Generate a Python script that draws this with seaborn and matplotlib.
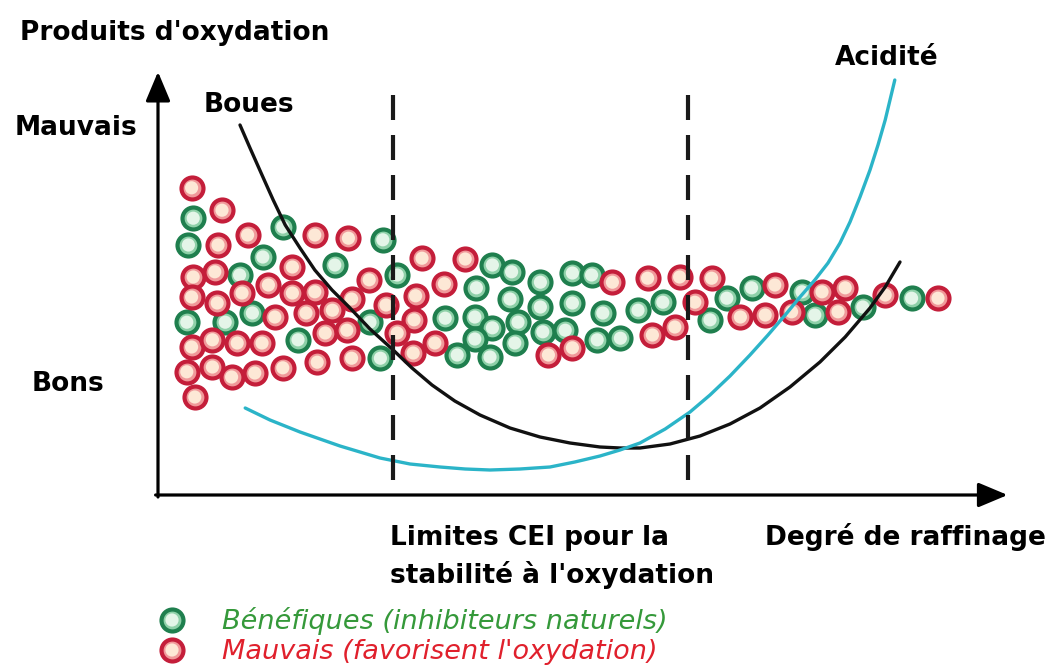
import matplotlib
matplotlib.use("Agg")
import matplotlib.pyplot as plt
import seaborn as sns
import pandas as pd

# ---- data (arbitrary units: x = degré de raffinage, y = produits d'oxydation) ----
green_x = [4.4, 3.8, 15.6, 13.1, 10.2, 3.6, 8.4, 11.8, 17.5, 28.1, 22.1, 29.9, 39.8,
           26.5, 35.9, 37.4, 27.8, 41.8, 44.2, 47.8, 51.8, 54.2, 44.0, 47.8, 51.8, 55.6,
           39.6, 41.8, 45.0, 48.1, 50.9, 39.6, 44.6, 54.9, 57.8, 41.5, 63.1, 60.0, 71.1,
           74.2, 69.0, 80.5, 82.1, 88.1, 94.2]
green_y = [69.2, 62.5, 67.0, 59.5, 55.0, 43.2, 43.2, 45.5, 38.8, 63.8, 57.5, 55.0, 51.8,
           43.2, 44.2, 35.0, 34.2, 57.5, 55.8, 53.2, 55.5, 55.0, 49.0, 47.0, 48.0, 45.5,
           44.5, 41.8, 43.2, 40.8, 41.2, 39.0, 38.0, 38.8, 39.2, 34.5, 48.2, 46.2, 49.2,
           51.8, 43.8, 50.8, 45.0, 47.0, 49.2]

red_x = [4.2, 8.0, 7.5, 11.2, 19.6, 23.8, 16.8, 4.4, 7.1, 13.8, 4.2, 7.4, 10.5, 16.8,
         19.6, 14.6, 18.5, 20.9, 4.2, 6.8, 9.9, 13.0, 3.6, 6.8, 9.2, 12.1, 15.6, 19.9,
         4.6, 33.0, 38.4, 26.4, 35.8, 24.2, 28.5, 32.2, 21.8, 32.0, 23.6, 29.9, 34.6,
         31.9, 24.2, 56.8, 48.8, 51.8, 61.2, 65.2, 69.2, 67.1, 77.1, 72.8, 75.9, 64.6,
         61.8, 79.2, 83.0, 85.9, 85.0, 90.9, 97.5]
red_y = [76.8, 71.2, 62.5, 65.0, 65.0, 64.2, 57.0, 54.5, 55.8, 52.5, 49.5, 48.0, 50.5,
         50.5, 50.8, 44.5, 45.5, 40.5, 37.0, 38.8, 38.0, 38.0, 30.8, 32.0, 29.5, 30.5,
         31.8, 33.2, 24.5, 59.2, 59.0, 53.8, 52.8, 49.0, 47.5, 49.8, 46.2, 43.8, 41.2,
         40.5, 38.0, 35.5, 34.2, 53.2, 35.0, 36.8, 54.2, 54.5, 54.2, 48.2, 52.5, 44.5,
         45.0, 42.0, 40.0, 45.8, 50.8, 51.8, 45.8, 50.0, 49.2]

boues_x = [10.25, 11.5, 13.0, 14.4, 15.9, 17.75, 19.6, 21.75, 24.0, 26.5, 29.4, 31.75,
           34.25, 37.1, 40.25, 44.0, 47.75, 51.5, 55.25, 57.75, 60.25, 64.0, 67.75,
           71.5, 75.25, 79.0, 82.75, 85.9, 89.0, 90.9, 92.75]
boues_y = [92.5, 86.75, 80.0, 73.75, 67.5, 61.75, 56.25, 51.25, 46.75, 41.5, 36.25,
           31.75, 27.5, 23.5, 20.0, 16.75, 14.5, 13.0, 12.0, 11.75, 11.75, 12.75, 14.75,
           17.75, 21.75, 27.0, 33.25, 39.5, 46.75, 52.0, 58.25]

acid_x = [10.9, 14.0, 17.75, 22.75, 27.75, 31.5, 35.25, 38.4, 41.5, 45.25, 49.0, 52.1,
          55.25, 57.75, 60.25, 63.4, 66.5, 69.0, 71.5, 74.0, 76.25, 78.4, 80.25, 82.1,
          83.75, 85.25, 86.5, 87.75, 89.0, 90.0, 90.9, 91.5, 92.1]
acid_y = [21.75, 18.75, 15.75, 12.25, 9.25, 7.75, 7.0, 6.5, 6.25, 6.5, 7.0, 8.25, 9.75,
          11.25, 13.0, 16.5, 20.75, 25.0, 29.75, 35.0, 40.0, 45.0, 49.5, 53.75, 58.0,
          63.0, 68.25, 74.5, 81.25, 87.5, 93.75, 98.75, 103.75]

limits_x = [29.4, 66.2]          # limites CEI
axis_top = 105.8
axis_right = 106.2

# ---- figure ----
sns.set_theme(style="white")
plt.rcParams['font.family'] = ['DejaVu Sans']

fig = plt.figure(figsize=(10.55, 6.70), dpi=100)
ax = fig.add_axes([0, 0, 1, 1])
ax.set_xlim(-19.75, 112.125)
ax.set_ylim(-43.75, 123.75)
ax.axis('off')

df_g = pd.DataFrame({"x": green_x, "y": green_y})
df_r = pd.DataFrame({"x": red_x, "y": red_y})

G_EDGE, G_FACE, G_CORE = "#1f7f4e", "#8ed0a8", "#e4f5e8"
R_EDGE, R_FACE, R_CORE = "#c41e3a", "#f0999a", "#fde8d6"
S_OUT, S_IN, LW = 250, 90, 3.0

for df, edge, face, core in [(df_g, G_EDGE, G_FACE, G_CORE), (df_r, R_EDGE, R_FACE, R_CORE)]:
    sns.scatterplot(data=df, x="x", y="y", s=S_OUT, color=face, edgecolor=edge,
                    linewidth=LW, ax=ax, legend=False, zorder=2)
    sns.scatterplot(data=df, x="x", y="y", s=S_IN, color=core, edgecolor="none",
                    linewidth=0, ax=ax, legend=False, zorder=2)

sns.lineplot(x=boues_x, y=boues_y, sort=False, color="#111111", linewidth=2.4, ax=ax, zorder=4)
sns.lineplot(x=acid_x, y=acid_y, sort=False, color="#2bb4c8", linewidth=2.4, ax=ax, zorder=4)

for lx in limits_x:
    ax.plot([lx, lx], [100, 0], color="#1a1a1a", linewidth=3, dashes=(6, 3.6),
            solid_capstyle='butt', dash_capstyle='butt', zorder=5)

# axes with arrows
arrow = dict(arrowstyle='-|>,head_length=1.0,head_width=0.42', lw=2.3, color='black',
             mutation_scale=18, shrinkA=0, shrinkB=0)
ax.annotate('', xy=(0, axis_top), xytext=(0, -0.5), arrowprops=arrow, zorder=6)
ax.annotate('', xy=(axis_right, 0), xytext=(-0.3, 0), arrowprops=arrow, zorder=6)

# texts
H = 670.0
W = 1055.0
def ftext(px, py, s, **kw):
    fig.text(px / W, 1 - py / H, s, ha='left', va='baseline', **kw)

bold = dict(fontsize=19, fontweight='bold', color='black')
ftext(20, 40, "Produits d'oxydation", **bold)
ftext(15, 135, "Mauvais", **bold)
ftext(32, 391, "Bons", **bold)
ftext(204, 112, "Boues", **bold)
ftext(835, 65, "Acidité", **bold)
ftext(390, 545, "Limites CEI pour la", **bold)
ftext(390, 583, "stabilité à l'oxydation", **bold)
ftext(765, 545, "Degré de raffinage", **bold)

# legend
for py, edge, face, core in [(620, G_EDGE, G_FACE, G_CORE), (650, R_EDGE, R_FACE, R_CORE)]:
    ax.scatter([172 / W], [1 - py / H], s=S_OUT, color=face, edgecolor=edge, linewidth=LW,
               transform=ax.transAxes, zorder=6)
    ax.scatter([172 / W], [1 - py / H], s=S_IN, color=core, edgecolor='none',
               transform=ax.transAxes, zorder=6)
ftext(222, 629, "Bénéfiques (inhibiteurs naturels)", fontsize=19.5, style='italic', color="#35993a")
ftext(222, 659, "Mauvais (favorisent l'oxydation)", fontsize=19.5, style='italic', color="#e0202c")

fig.savefig("out.png", dpi=100)
